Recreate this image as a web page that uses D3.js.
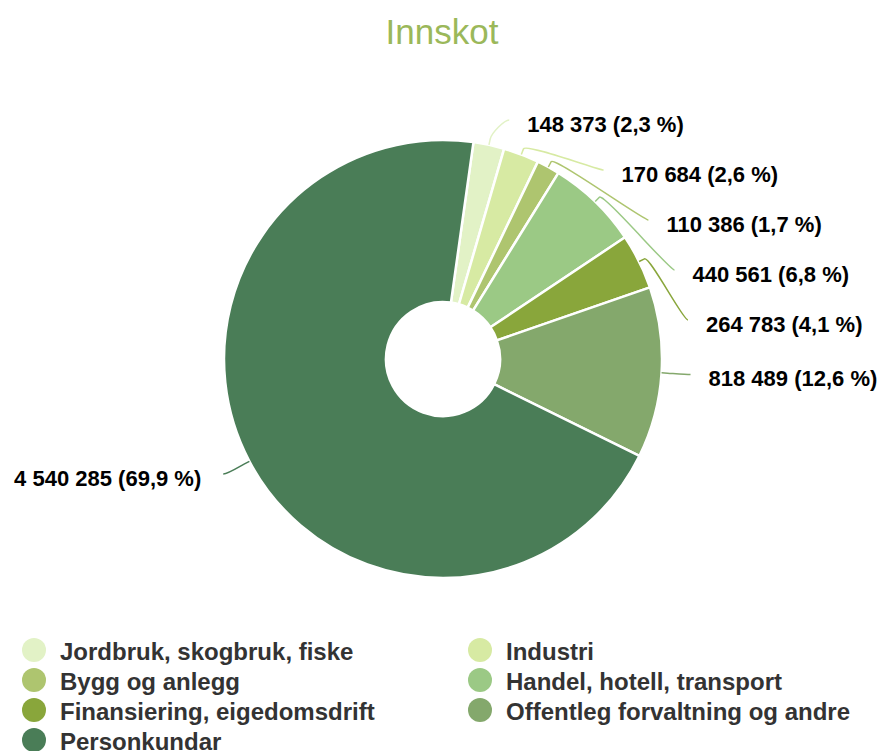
<!DOCTYPE html>
<html>
<head>
<meta charset="utf-8">
<script src="https://cdn.jsdelivr.net/npm/d3@7"></script>
<style>
    body { margin: 0; background: #fff; }
    svg { display: block; font-family: "Liberation Sans", Arial, sans-serif; }
</style>
</head>
<body>
<svg id="chart" width="884" height="751"></svg>
<script>
var title = "Innskot";
var categories = ["Jordbruk, skogbruk, fiske", "Industri", "Bygg og anlegg",
    "Handel, hotell, transport", "Finansiering, eigedomsdrift",
    "Offentleg forvaltning og andre", "Personkundar"];
var values = [148373, 170684, 110386, 440561, 264783, 818489, 4540285];
var colors = ["#e2f2c6", "#d7eaa3", "#aec56f", "#9bc985", "#89a63b", "#84a86c", "#4a7d57"];

var width = 884, height = 751;
var cx = 443, cy = 359;
var outerR = 219, innerR = 57;
var naturalR = 246;        // natural label spot on the mid angle
var labelR = 248;          // where connectors meet the labels
var labelGap = 50;         // min vertical distance between labels
var plotTop = 120;
var startAngle = 8 * Math.PI / 180;

var svg = d3.select('#chart');

var total = d3.sum(values);
var fmtNum = function(v) { return d3.format(",")(v).replace(/,/g, " "); };
var fmtPct = function(v) { return d3.format(".1f")(v * 100).replace(".", ",") + " %"; };

svg.append("text")
    .attr("x", width / 2)
    .attr("y", 44)
    .attr("text-anchor", "middle")
    .style("font-size", "35px")
    .style("fill", "#9bb85a")
    .text(title);

var data = categories.map(function(c, i) {
    return {name: c, value: values[i], color: colors[i]};
});

var pie = d3.pie()
    .sort(null)
    .value(function(d) { return d.value; })
    .startAngle(startAngle)
    .endAngle(startAngle + 2 * Math.PI);

var arcs = pie(data);

var arc = d3.arc()
    .innerRadius(innerR)
    .outerRadius(outerR);

var g = svg.append("g")
    .attr("transform", "translate(" + cx + "," + cy + ")");

g.selectAll("path.slice")
    .data(arcs)
    .enter()
    .append("path")
    .attr("class", "slice")
    .attr("d", arc)
    .style("fill", function(d) { return d.data.color; })
    .style("stroke", "#fff")
    .style("stroke-width", 2.5)
    .style("stroke-linejoin", "round");

// label placement: natural spot on the mid angle, pushed apart per side
arcs.forEach(function(d) {
    d.mid = (d.startAngle + d.endAngle) / 2;
    d.right = Math.sin(d.mid) >= 0;
    d.ly = -naturalR * Math.cos(d.mid);
});

[true, false].forEach(function(side) {
    var items = arcs.filter(function(d) { return d.right == side; })
        .sort(function(a, b) { return a.ly - b.ly; });
    var prev = plotTop - cy - labelGap;
    items.forEach(function(d) {
        d.ly = Math.max(d.ly, prev + labelGap);
        prev = d.ly;
    });
});

arcs.forEach(function(d) {
    var dy = Math.min(Math.abs(d.ly), labelR - 1);
    var dx = Math.sqrt(labelR * labelR - dy * dy);
    d.lx = d.right ? dx : -dx;
    d.touch = [outerR * Math.sin(d.mid), -outerR * Math.cos(d.mid)];
    d.brk = [(outerR + 6) * Math.sin(d.mid), -(outerR + 6) * Math.cos(d.mid)];
});

g.selectAll("path.connector")
    .data(arcs)
    .enter()
    .append("path")
    .attr("class", "connector")
    .attr("d", function(d) {
        var p = d3.path();
        p.moveTo(d.lx, d.ly);
        p.bezierCurveTo(d.lx + (d.right ? -5 : 5), d.ly,
            2 * d.brk[0] - d.touch[0], 2 * d.brk[1] - d.touch[1],
            d.brk[0], d.brk[1]);
        p.lineTo(d.touch[0], d.touch[1]);
        return p.toString();
    })
    .style("fill", "none")
    .style("stroke", function(d) { return d.data.color; })
    .style("stroke-width", 1.5);

g.selectAll("text.label")
    .data(arcs)
    .enter()
    .append("text")
    .attr("class", "label")
    .attr("x", function(d) { return d.right ? d.lx + 18 : d.lx - 22; })
    .attr("y", function(d) { return d.ly + 12; })
    .attr("text-anchor", function(d) { return d.right ? "start" : "end"; })
    .style("font-size", "22px")
    .style("font-weight", "bold")
    .style("fill", "#000")
    .text(function(d) { return fmtNum(d.data.value) + " (" + fmtPct(d.data.value / total) + ")"; });

// legend, two columns
var legend = svg.append("g");
var items = legend.selectAll("g")
    .data(data)
    .enter()
    .append("g")
    .attr("transform", function(d, i) {
        return "translate(" + (34 + (i % 2) * 446) + "," + (650 + Math.floor(i / 2) * 30) + ")";
    });

items.append("circle")
    .attr("r", 12)
    .style("fill", function(d) { return d.color; });

items.append("text")
    .attr("x", 26)
    .attr("y", 10)
    .style("font-size", "24px")
    .style("font-weight", "bold")
    .style("fill", "#333")
    .text(function(d) { return d.name; });
</script>
</body>
</html>
